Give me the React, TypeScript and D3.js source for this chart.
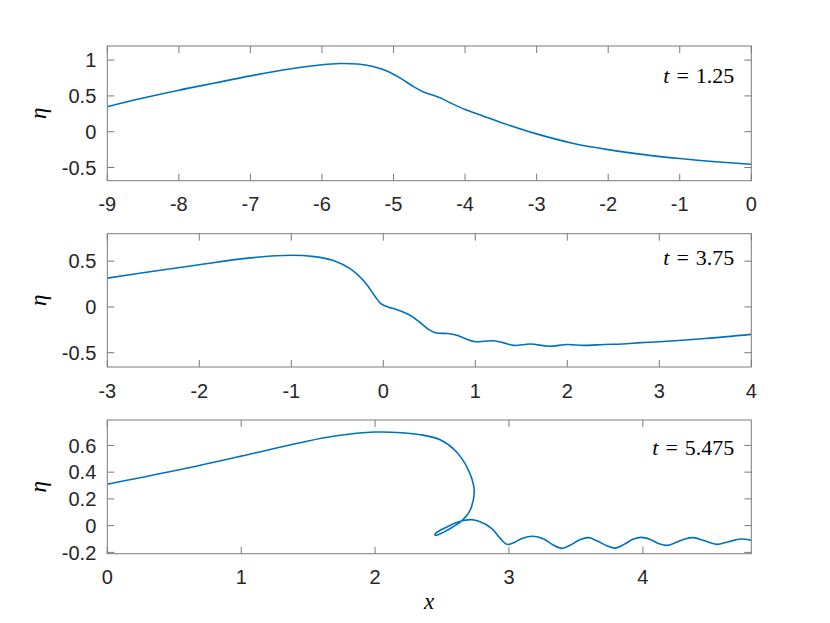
import React from "react";
import * as d3 from "d3";

// ---- data ----
const p1X = [-9, -8.5, -8, -7.5, -7, -6.5, -6.0, -5.75, -5.5, -5.3, -5.1, -4.9, -4.72, -4.58, -4.45, -4.35, -4.2, -4.0, -3.75, -3.5, -3.0, -2.5, -2.0, -1.5, -1.0, -0.5, 0];
const p1Eta = [0.35, 0.47, 0.58, 0.68, 0.78, 0.87, 0.935, 0.952, 0.945, 0.915, 0.85, 0.745, 0.63, 0.555, 0.51, 0.475, 0.40, 0.31, 0.22, 0.13, -0.03, -0.16, -0.25, -0.32, -0.375, -0.42, -0.455];

const p2X = [-3, -2.5, -2, -1.5, -1.0, -0.75, -0.55, -0.35, -0.2, -0.1, -0.03, 0.05, 0.15, 0.29, 0.4, 0.5, 0.58, 0.7, 0.8, 0.9, 1.0, 1.1, 1.2, 1.3, 1.42, 1.6, 1.8, 2.0, 2.18, 2.4, 2.6, 2.8, 3.0, 3.5, 4.0];
const p2Eta = [0.315, 0.39, 0.46, 0.53, 0.565, 0.55, 0.51, 0.41, 0.27, 0.13, 0.04, 0.0, -0.03, -0.09, -0.17, -0.25, -0.285, -0.29, -0.31, -0.35, -0.38, -0.375, -0.37, -0.39, -0.42, -0.405, -0.43, -0.41, -0.42, -0.41, -0.405, -0.39, -0.38, -0.345, -0.30];

const p3X = [0, 0.5, 1.0, 1.44, 1.7, 2.0, 2.2, 2.34, 2.49, 2.6, 2.69, 2.74, 2.72, 2.685, 2.64, 2.58, 2.52, 2.47, 2.45, 2.45, 2.48, 2.54, 2.6, 2.66, 2.72, 2.78, 2.87, 2.93, 2.985, 3.03, 3.1, 3.18, 3.26, 3.33, 3.396, 3.46, 3.53, 3.595, 3.66, 3.73, 3.795, 3.86, 3.93, 3.99, 4.06, 4.12, 4.18, 4.25, 4.32, 4.38, 4.45, 4.55, 4.64, 4.73, 4.81];
const p3Eta = [0.31, 0.41, 0.52, 0.62, 0.67, 0.70, 0.695, 0.68, 0.64, 0.56, 0.43, 0.27, 0.14, 0.075, 0.03, -0.01, -0.045, -0.068, -0.073, -0.06, -0.038, -0.008, 0.02, 0.038, 0.045, 0.03, -0.02, -0.09, -0.14, -0.13, -0.095, -0.08, -0.1, -0.145, -0.17, -0.145, -0.105, -0.09, -0.115, -0.15, -0.168, -0.14, -0.1, -0.088, -0.105, -0.135, -0.148, -0.125, -0.098, -0.09, -0.11, -0.14, -0.12, -0.1, -0.11];

const p1XTicks = [-9, -8, -7, -6, -5, -4, -3, -2, -1, 0];
const p1YTicks = [-0.5, 0, 0.5, 1];
const p2XTicks = [-3, -2, -1, 0, 1, 2, 3, 4];
const p2YTicks = [-0.5, 0, 0.5];
const p3XTicks = [0, 1, 2, 3, 4];
const p3YTicks = [-0.2, 0, 0.2, 0.4, 0.6];

const times = ["1.25", "3.75", "5.475"];

// ---- layout ----
const W = 830;
const H = 623;
const left = 107.3;
const right = 751.3;
const panels = [
  { xs: p1X, ys: p1Eta, xDom: [-9, 0], yDom: [-0.684, 1.197], top: 46, bottom: 180.7, xt: p1XTicks, yt: p1YTicks, t: times[0], tY: 83 },
  { xs: p2X, ys: p2Eta, xDom: [-3, 4], yDom: [-0.656, 0.8], top: 233.7, bottom: 367, xt: p2XTicks, yt: p2YTicks, t: times[1], tY: 265 },
  { xs: p3X, ys: p3Eta, xDom: [0, 4.81], yDom: [-0.21, 0.79], top: 420, bottom: 553.7, xt: p3XTicks, yt: p3YTicks, t: times[2], tY: 455 },
];

const axisColor = "#7a7a7a";
const textColor = "#262626";
const lineColor = "#0072BD";
const tickLen = 7;

function Panel({ p, idx }: { p: any; idx: number }) {
  const x = d3.scaleLinear().domain(p.xDom).range([left, right]);
  const y = d3.scaleLinear().domain(p.yDom).range([p.bottom, p.top]);
  const pts: [number, number][] = p.xs.map((v: number, i: number) => [v, p.ys[i]]);
  const line = d3
    .line<[number, number]>()
    .x((d) => x(d[0]))
    .y((d) => y(d[1]))
    .curve(d3.curveCatmullRom.alpha(0.5));
  const clipId = `clip${idx}`;
  const midY = (p.top + p.bottom) / 2;
  return (
    <g>
      <defs>
        <clipPath id={clipId}>
          <rect x={left} y={p.top} width={right - left} height={p.bottom - p.top} />
        </clipPath>
      </defs>
      <path d={line(pts) || ""} fill="none" stroke={lineColor} strokeWidth={1.6} clipPath={`url(#${clipId})`} strokeLinejoin="round" />
      <rect x={left} y={p.top} width={right - left} height={p.bottom - p.top} fill="none" stroke={axisColor} strokeWidth={1} />
      {p.xt.map((t: number) => (
        <g key={"x" + t}>
          <line x1={x(t)} x2={x(t)} y1={p.bottom} y2={p.bottom - tickLen} stroke={axisColor} />
          <line x1={x(t)} x2={x(t)} y1={p.top} y2={p.top + tickLen} stroke={axisColor} />
          <text x={x(t)} y={p.bottom + 30.5} textAnchor="middle" fontFamily="'Liberation Sans', Arial, sans-serif" fontSize={20} fill={textColor}>
            {String(t)}
          </text>
        </g>
      ))}
      {p.yt.map((t: number) => (
        <g key={"y" + t}>
          <line x1={left} x2={left + tickLen} y1={y(t)} y2={y(t)} stroke={axisColor} />
          <line x1={right} x2={right - tickLen} y1={y(t)} y2={y(t)} stroke={axisColor} />
          <text x={left - 11} y={y(t)} dy="0.36em" textAnchor="end" fontFamily="'Liberation Sans', Arial, sans-serif" fontSize={20} fill={textColor}>
            {String(t)}
          </text>
        </g>
      ))}
      <text x={right - 17} y={p.tY} textAnchor="end" fontFamily="'Liberation Serif', 'DejaVu Serif', serif" fontSize={22} fill="#000">
        <tspan fontStyle="italic">t</tspan>
        <tspan dx={7}>=</tspan>
        <tspan dx={7}>{p.t}</tspan>
      </text>
      <text transform={`translate(46,${midY}) rotate(-90)`} textAnchor="middle" fontFamily="'Liberation Serif', 'DejaVu Serif', serif" fontStyle="italic" fontSize={23} fill="#000">
        η
      </text>
    </g>
  );
}

export default function App() {
  return (
    <svg width={W} height={H} style={{ position: "absolute", left: 0, top: 0, background: "#fff" }}>
      <rect width={W} height={H} fill="#fff" />
      {panels.map((p, i) => (
        <Panel key={i} p={p} idx={i} />
      ))}
      <text x={429} y={609} textAnchor="middle" fontFamily="'Liberation Serif', 'DejaVu Serif', serif" fontStyle="italic" fontSize={23} fill="#000">
        x
      </text>
    </svg>
  );
}
